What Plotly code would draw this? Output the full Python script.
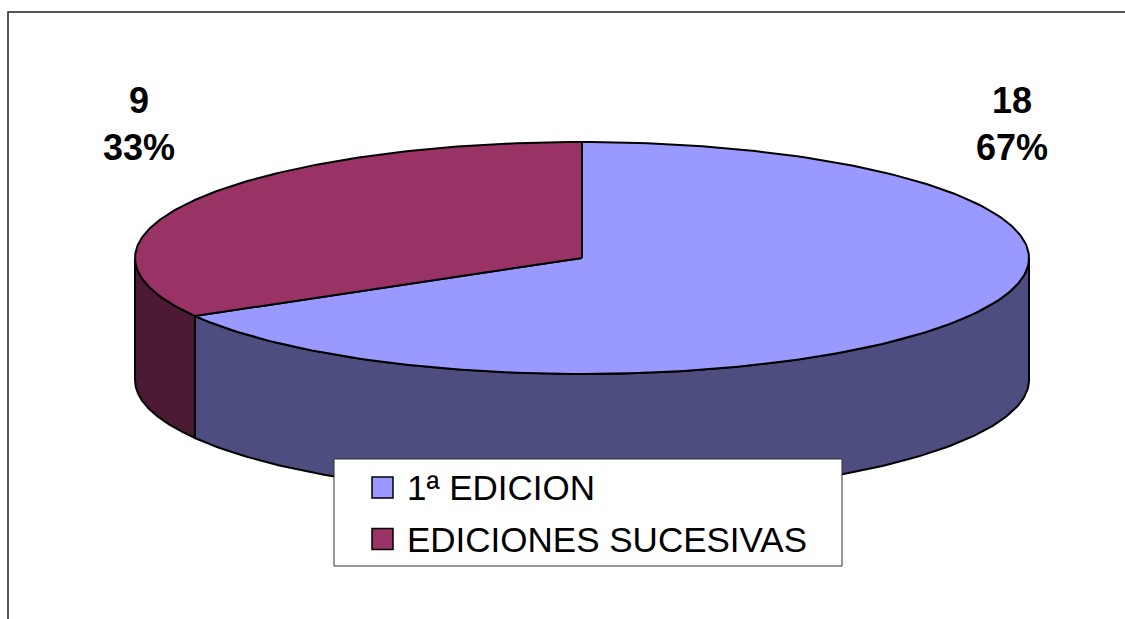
import math
import plotly.graph_objects as go

# ---- data ----
categories = ["1ª EDICION", "EDICIONES SUCESIVAS"]
values = [18, 9]

# ---- style ----
top_colors = ["#9999FF", "#993366"]
side_colors = ["#4D4D80", "#4D1A33"]
W, H = 1125, 619
CX, CY, RX, RY, DEPTH = 582, 258, 447, 116, 122
LABEL_POS = [(1012, 124), (139, 124)]   # outside label anchors (layout)
FONT = "Liberation Sans, Arial, sans-serif"


def pt(theta_deg, dy=0.0):
    t = math.radians(theta_deg)
    return CX + RX * math.sin(t), CY - RY * math.cos(t) + dy


def arc(a, b, dy=0.0, n=200):
    xs, ys = [], []
    for i in range(n + 1):
        th = a + (b - a) * i / n
        x, y = pt(th, dy)
        xs.append(x)
        ys.append(y)
    return xs, ys


total = sum(values)
angles = []
start = 0.0
for v in values:
    end = start + 360.0 * v / total
    angles.append((start, end))
    start = end

fig = go.Figure()

# side walls (front half visible: 90..270 degrees clockwise from top)
for i, (a0, a1) in enumerate(angles):
    a = max(a0, 90.0)
    b = min(a1, 270.0)
    if b <= a:
        continue
    tx, ty = arc(a, b)
    bx, by = arc(b, a, DEPTH)
    fig.add_trace(go.Scatter(
        x=tx + bx + [tx[0]], y=ty + by + [ty[0]],
        mode="lines", fill="toself", fillcolor=side_colors[i],
        line=dict(color="black", width=2), hoverinfo="skip", showlegend=False))

# top faces
for i, (a0, a1) in enumerate(angles):
    ax, ay = arc(a0, a1)
    fig.add_trace(go.Scatter(
        x=[CX] + ax + [CX], y=[CY] + ay + [CY],
        mode="lines", fill="toself", fillcolor=top_colors[i],
        line=dict(color="black", width=2), hoverinfo="skip", showlegend=False,
        name=categories[i]))

annotations = []
for i, v in enumerate(values):
    pct = round(100.0 * v / total)
    lx, ly = LABEL_POS[i]
    annotations.append(dict(
        x=lx, y=ly, xref="x", yref="y", showarrow=False,
        text=f"<b>{v}<br>{pct}%</b>", align="center",
        font=dict(family=FONT, size=36, color="black"),
        xanchor="center", yanchor="middle"))

shapes = [
    # chart border (only top/left within the frame)
    dict(type="rect", xref="x", yref="y", x0=8, y0=12, x1=W + 20, y1=H + 20,
         line=dict(color="#222222", width=1.5), fillcolor="rgba(0,0,0,0)", layer="above"),
    # legend box
    dict(type="rect", xref="x", yref="y", x0=334, y0=459, x1=842, y1=566,
         line=dict(color="#333333", width=1), fillcolor="white", layer="above"),
]
for i, name in enumerate(categories):
    yc = 487.5 + i * 51.5
    shapes.append(dict(type="rect", xref="x", yref="y", x0=372, x1=393,
                       y0=yc - 10.5, y1=yc + 10.5, fillcolor=top_colors[i],
                       line=dict(color="black", width=1.5), layer="above"))
    annotations.append(dict(
        x=405, y=yc, xref="x", yref="y", showarrow=False, text=name,
        font=dict(family=FONT, size=35, color="black"),
        xanchor="left", yanchor="middle"))

fig.update_layout(
    width=W, height=H,
    margin=dict(l=0, r=0, t=0, b=0),
    paper_bgcolor="white", plot_bgcolor="white",
    xaxis=dict(range=[0, W], visible=False, fixedrange=True),
    yaxis=dict(range=[H, 0], visible=False, fixedrange=True),
    shapes=shapes, annotations=annotations, showlegend=False,
)

fig.write_html(
    "out.html",
    config={"displayModeBar": False, "responsive": False},
    post_script="document.body.style.margin='0';document.body.style.overflow='hidden';",
)
